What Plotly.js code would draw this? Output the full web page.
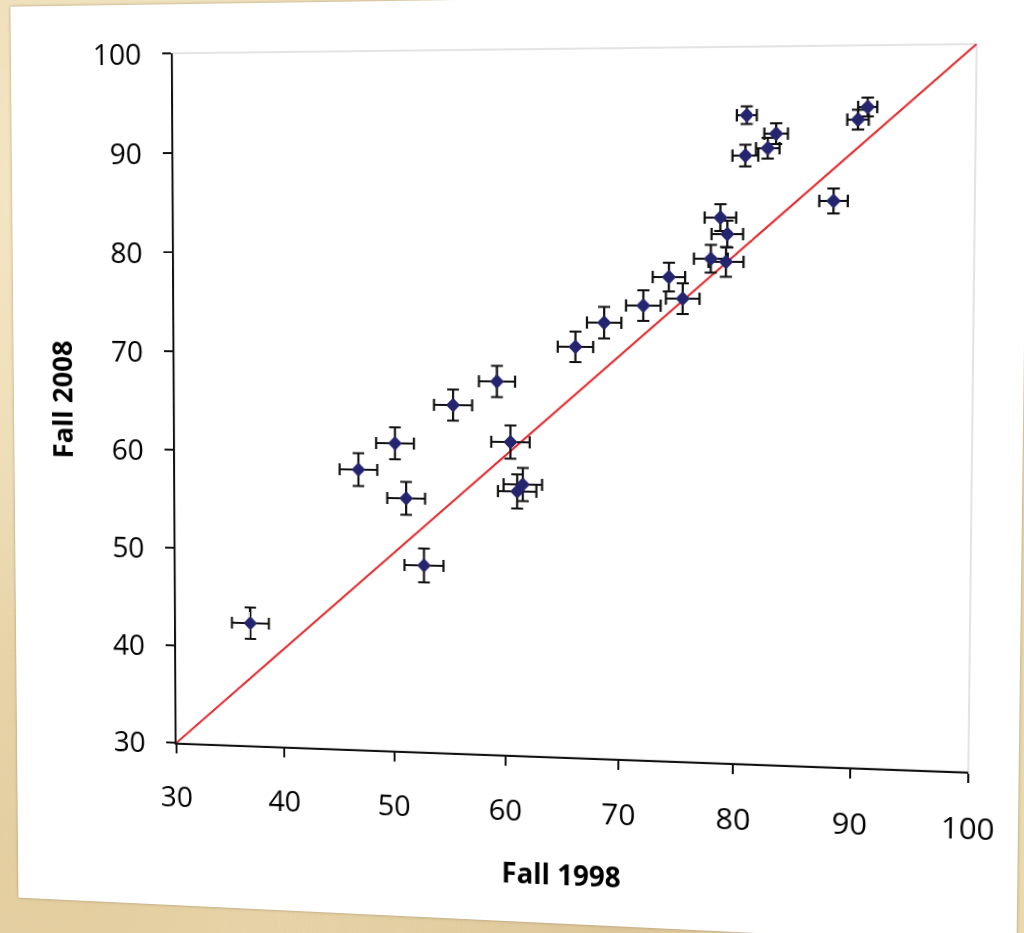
<!DOCTYPE html>
<html>
<head>
<meta charset="utf-8">
<script src="https://cdn.plot.ly/plotly-3.0.1.min.js"></script>
<style>
  html, body { margin: 0; padding: 0; width: 1024px; height: 933px; overflow: hidden; }
  body {
    background:
      radial-gradient(ellipse at 15% 20%, rgba(255,246,222,0.55), rgba(255,246,222,0) 45%),
      radial-gradient(ellipse at 60% 100%, rgba(196,165,112,0.35), rgba(196,165,112,0) 40%),
      radial-gradient(ellipse at 5% 95%, rgba(214,186,132,0.35), rgba(214,186,132,0) 35%),
      #ead8ae;
  }
  #chart {
    position: absolute; left: 0; top: 0;
    width: 1020px; height: 917px;
    transform-origin: 0 0;
    box-shadow: 0 0 3px rgba(120,100,70,0.55);
    background: #fff;
  }
</style>
</head>
<body>
<div id="chart"></div>
<script>
// ---------- data ----------
const fall1998 = [36.9, 46.8, 50.1, 51.1, 52.7, 55.3, 59.2, 60.4, 61.0, 61.5, 66.1, 68.6, 72.0, 74.2, 75.4, 77.8, 79.1, 78.6, 79.2, 80.7, 80.8, 82.6, 83.3, 88.2, 90.2, 91.0];
const fall2008 = [42.5, 58.3, 61.0, 55.5, 48.8, 64.9, 67.3, 61.3, 56.4, 57.1, 70.8, 73.2, 74.9, 77.7, 75.6, 79.5, 79.2, 83.5, 81.9, 89.5, 93.4, 90.2, 91.6, 85.1, 92.9, 94.1];
const err1998  = [1.7, 1.7, 1.7, 1.7, 1.75, 1.7, 1.6, 1.7, 1.7, 1.7, 1.55, 1.5, 1.5, 1.4, 1.45, 1.45, 1.5, 1.35, 1.35, 1.1, 0.85, 1.0, 1.0, 1.2, 0.9, 0.8];
const err2008  = [1.6, 1.65, 1.6, 1.65, 1.7, 1.55, 1.55, 1.65, 1.7, 1.65, 1.5, 1.55, 1.5, 1.4, 1.5, 1.35, 1.45, 1.3, 1.3, 1.05, 0.85, 1.0, 1.0, 1.2, 0.95, 0.9];
const equalityX = [30, 100];
const equalityY = [30, 100];
const tickValues = [30, 40, 50, 60, 70, 80, 90, 100];
const tickLabels = ['30', '40', '50', '60', '70', '80', '90', '100'];
const xTitle = 'Fall 1998';
const yTitle = 'Fall 2008';

// ---------- layout geometry ----------
const FIG_W = 1020, FIG_H = 917;
const M = { l: 172, r: 48, t: 49, b: 168 };
const PLOT_W = FIG_W - M.l - M.r, PLOT_H = FIG_H - M.t - M.b;
// where the plot-area corners sit in the photographed page (TL, TR, BR, BL)
const PLOT_QUAD = [[172.7, 53.3], [976.7, 44.0], [968.3, 771.7], [176.5, 742.7]];

function homography(src, dst) {
  const A = [], b = [];
  for (let i = 0; i < 4; i++) {
    const [x, y] = src[i], [X, Y] = dst[i];
    A.push([x, y, 1, 0, 0, 0, -X * x, -X * y]); b.push(X);
    A.push([0, 0, 0, x, y, 1, -Y * x, -Y * y]); b.push(Y);
  }
  const n = 8;
  for (let c = 0; c < n; c++) {
    let p = c;
    for (let r = c + 1; r < n; r++) if (Math.abs(A[r][c]) > Math.abs(A[p][c])) p = r;
    [A[c], A[p]] = [A[p], A[c]]; [b[c], b[p]] = [b[p], b[c]];
    for (let r = 0; r < n; r++) {
      if (r === c) continue;
      const f = A[r][c] / A[c][c];
      for (let k = c; k < n; k++) A[r][k] -= f * A[c][k];
      b[r] -= f * b[c];
    }
  }
  return b.map((v, i) => v / A[i][i]);
}
const src = [[M.l, M.t], [M.l + PLOT_W, M.t], [M.l + PLOT_W, M.t + PLOT_H], [M.l, M.t + PLOT_H]];
const h = homography(src, PLOT_QUAD);
document.getElementById('chart').style.transform =
  `matrix3d(${h[0]},${h[3]},0,${h[6]},${h[1]},${h[4]},0,${h[7]},0,0,1,0,${h[2]},${h[5]},0,1)`;

// ---------- chart ----------
const FONT = 'Open Sans, Lato, sans-serif';
const traces = [
  {
    x: equalityX, y: equalityY, type: 'scatter', mode: 'lines',
    line: { color: '#e3272b', width: 2 }, hoverinfo: 'skip'
  },
  {
    x: fall1998, y: fall2008, type: 'scatter', mode: 'markers',
    marker: { symbol: 'diamond', size: 11, color: '#24246f' },
    error_x: { type: 'data', array: err1998, visible: true, color: '#111', thickness: 2.2, width: 6 },
    error_y: { type: 'data', array: err2008, visible: true, color: '#111', thickness: 2.2, width: 6 }
  }
];

const axisBase = {
  range: [30, 100], tickmode: 'array', tickvals: tickValues, ticktext: tickLabels,
  showgrid: false, zeroline: false, showline: true, linecolor: '#111', linewidth: 2,
  ticks: 'outside', ticklen: 9, tickwidth: 2, tickcolor: '#111',
  tickfont: { family: FONT, size: 30, color: '#000' }
};

const layout = {
  width: FIG_W, height: FIG_H, margin: M,
  paper_bgcolor: '#ffffff', plot_bgcolor: '#ffffff',
  showlegend: false,
  font: { family: FONT, color: '#000' },
  xaxis: Object.assign({}, axisBase, { ticklabelstandoff: 19 }),
  yaxis: Object.assign({}, axisBase, { ticklabelstandoff: 16 }),
  shapes: [{
    type: 'rect', xref: 'paper', yref: 'paper', x0: 0, x1: 1, y0: 0, y1: 1,
    line: { color: '#dcdcdc', width: 1.5 }, layer: 'below'
  }],
  annotations: [
    { text: '<b>' + xTitle + '</b>', xref: 'paper', yref: 'paper', x: 0.499, y: -0.169,
      xanchor: 'center', yanchor: 'middle', showarrow: false,
      font: { family: FONT, size: 28, color: '#000' } },
    { text: '<b>' + yTitle + '</b>', xref: 'paper', yref: 'paper', x: -0.150, y: 0.499,
      xanchor: 'center', yanchor: 'middle', showarrow: false, textangle: -90,
      font: { family: FONT, size: 28, color: '#000' } }
  ]
};

Plotly.newPlot('chart', traces, layout, { displayModeBar: false, staticPlot: true });
</script>
</body>
</html>
